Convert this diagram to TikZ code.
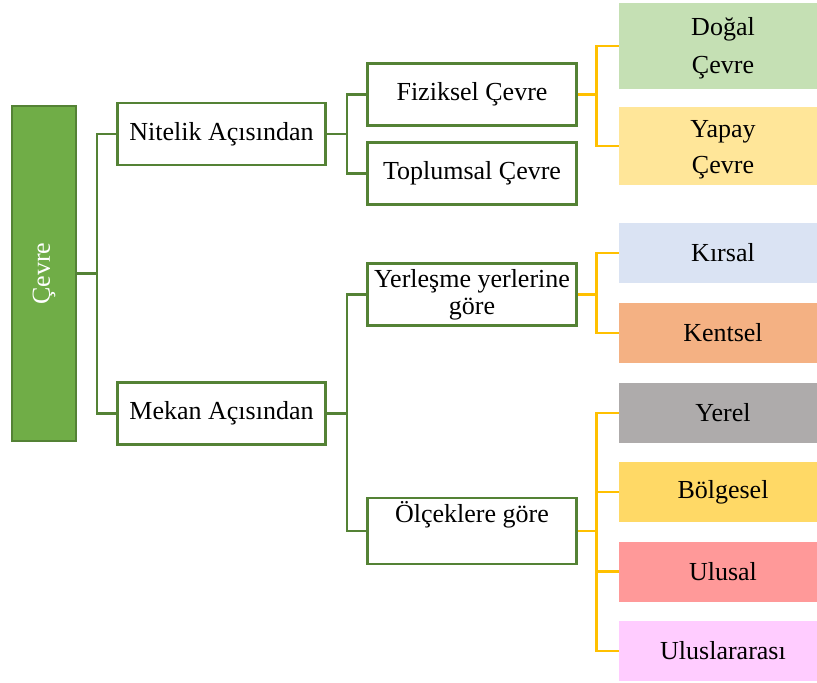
\documentclass[tikz,border=0pt]{standalone}
\usepackage{fontspec}
\usepackage{graphicx}
\usepackage{xcolor}
\usepackage{tikz}
\setmainfont{Liberation Serif}
\definecolor{kokyesil}{HTML}{70AD47}
\definecolor{koyuyesil}{HTML}{548235}
\definecolor{sari}{HTML}{FFC000}
\definecolor{dogalrenk}{HTML}{C5E0B4}
\definecolor{yapayrenk}{HTML}{FFE699}
\definecolor{kirsalrenk}{HTML}{DAE3F3}
\definecolor{kentselrenk}{HTML}{F4B183}
\definecolor{yerelrenk}{HTML}{AEABAB}
\definecolor{bolgeselrenk}{HTML}{FFD966}
\definecolor{ulusalrenk}{HTML}{FF9999}
\definecolor{uluslarrenk}{HTML}{FFCCFF}

\begin{document}
\begin{tikzpicture}[x=1pt, y=-1pt,
                    font=\fontsize{26}{27}\selectfont]
\tikzstyle{kutu}=[shape=rectangle, draw=koyuyesil, fill=white, line width=2.6pt,
                    inner sep=1pt, minimum width=208pt, minimum height=62pt, align=center]
\tikzstyle{renkli}=[shape=rectangle, inner sep=1pt, minimum width=208pt,
                    minimum height=60pt, align=center]
\tikzstyle{yesilcizgi}=[draw=koyuyesil, line width=2.4pt]
\tikzstyle{saricizgi}=[draw=sari, line width=2.8pt]
  \useasboundingbox (0,0) rectangle (817,683);
  \node[draw=koyuyesil, fill=kokyesil, line width=2.2pt, minimum width=64pt,
        minimum height=335pt, text=white] (cevre) at (44,273.5) {\rotatebox{90}{Çevre}};
  \node[kutu] (nitelik) at (221.5,134) {Nitelik Açısından};
  \node[kutu] (mekan) at (221.5,413.5) {Mekan Açısından};
  \node[kutu, minimum width=209pt] (fiziksel) at (472,94.5) {Fiziksel Çevre};
  \node[kutu, minimum width=209pt] (toplumsal) at (472,173.5) {Toplumsal Çevre};
  \node[kutu, minimum width=209pt] (yerlesme) at (472,294.5) {Yerleşme yerlerine\\göre};
  \node[kutu, minimum width=209pt, minimum height=66pt] (olcek) at (472,531) {Ölçeklere göre\\[12pt]~};
  \node[renkli, fill=dogalrenk, minimum height=86pt, text height=58pt,
        text depth=4pt] (dogal) at (723,46) {Doğal\\[11pt]Çevre};
  \node[renkli, fill=yapayrenk, minimum height=78pt, text height=58pt,
        text depth=4pt] (yapay) at (723,146) {Yapay\\[9pt]Çevre};
  \node[renkli, fill=kirsalrenk] (kirsal) at (723,253) {Kırsal};
  \node[renkli, fill=kentselrenk] (kentsel) at (723,333) {Kentsel};
  \node[renkli, fill=yerelrenk] (yerel) at (723,413) {Yerel};
  \node[renkli, fill=bolgeselrenk] (bolgesel) at (723,492) {Bölgesel};
  \node[renkli, fill=ulusalrenk] (ulusal) at (723,571.5) {Ulusal};
  \node[renkli, fill=uluslarrenk] (uluslar) at (723,651) {Uluslararası};
  \draw[yesilcizgi] (cevre.east) -- ++(20,0) |- (nitelik.west);
  \draw[yesilcizgi] (cevre.east) -- ++(20,0) |- (mekan.west);
  \draw[yesilcizgi] (nitelik.east) -- ++(20,0) |- (fiziksel.west);
  \draw[yesilcizgi] (nitelik.east) -- ++(20,0) |- (toplumsal.west);
  \draw[yesilcizgi] (mekan.east) -- ++(20,0) |- (yerlesme.west);
  \draw[yesilcizgi] (mekan.east) -- ++(20,0) |- (olcek.west);
  \draw[saricizgi] (fiziksel.east) -- ++(19,0) |- (dogal.west);
  \draw[saricizgi] (fiziksel.east) -- ++(19,0) |- (yapay.west);
  \draw[saricizgi] (yerlesme.east) -- ++(19,0) |- (kirsal.west);
  \draw[saricizgi] (yerlesme.east) -- ++(19,0) |- (kentsel.west);
  \draw[saricizgi] (olcek.east) -- ++(19,0) |- (yerel.west);
  \draw[saricizgi] (olcek.east) -- ++(19,0) |- (bolgesel.west);
  \draw[saricizgi] (olcek.east) -- ++(19,0) |- (ulusal.west);
  \draw[saricizgi] (olcek.east) -- ++(19,0) |- (uluslar.west);
\end{tikzpicture}
\end{document}
